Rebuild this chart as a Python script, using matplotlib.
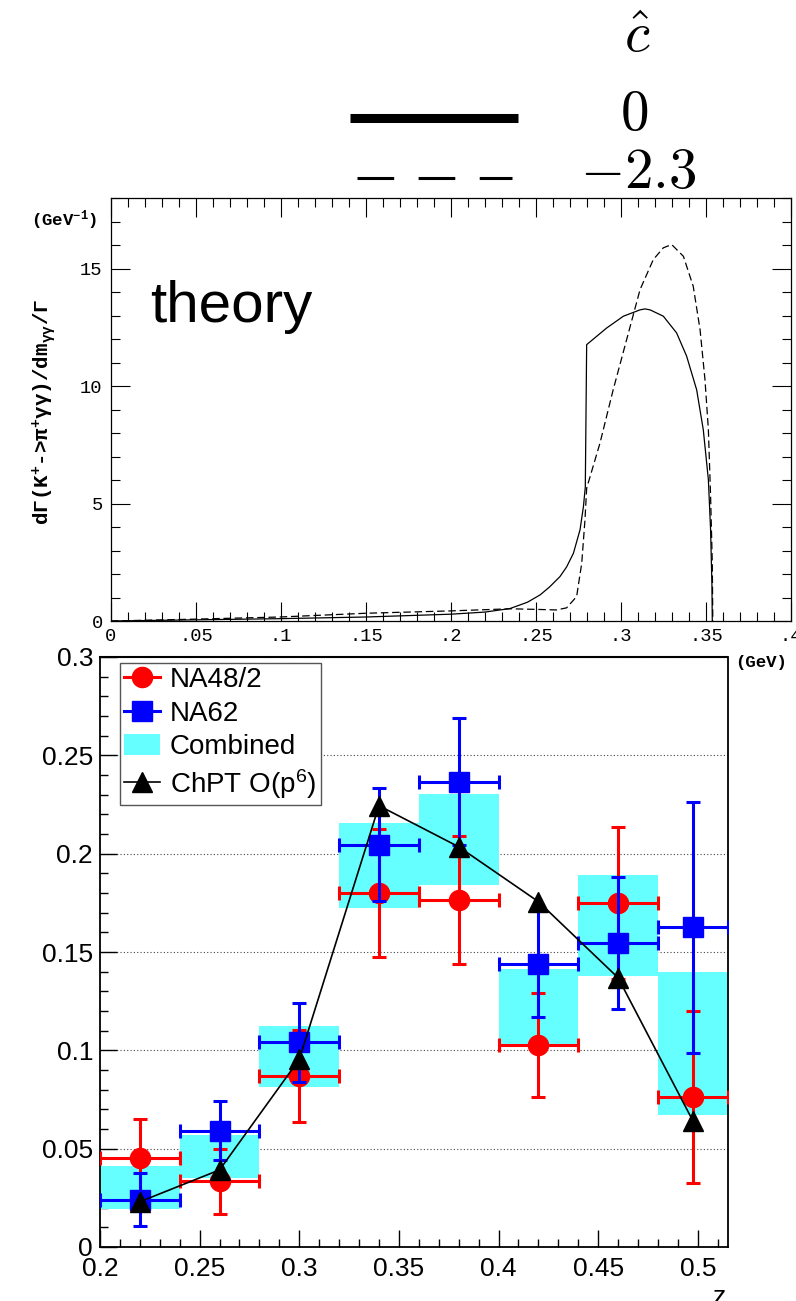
import matplotlib
matplotlib.use('Agg')
import matplotlib.pyplot as plt
from matplotlib.lines import Line2D
from matplotlib.patches import Patch, Rectangle
from matplotlib.ticker import MultipleLocator, FixedLocator, FixedFormatter

plt.rcParams['mathtext.fontset'] = 'custom'
plt.rcParams['mathtext.rm'] = 'Liberation Mono'
plt.rcParams['mathtext.bf'] = 'Liberation Mono:bold'
plt.rcParams['mathtext.it'] = 'Liberation Mono:italic'
plt.rcParams['mathtext.sf'] = 'Liberation Sans'

# ---------------- data: theory panel ----------------
theory_x_c0 = [0.0, 0.05, 0.10, 0.15, 0.20, 0.22, 0.2347, 0.245, 0.2524, 0.258, 0.2641, 0.268,
               0.272, 0.2759, 0.2779, 0.2790, 0.2798, 0.2916, 0.3014, 0.3112, 0.3141, 0.3171,
               0.3249, 0.3327, 0.3386, 0.3445, 0.3484, 0.3514, 0.3527, 0.3535, 0.3537]
theory_y_c0 = [0.0, 0.05, 0.10, 0.17, 0.29, 0.38, 0.53, 0.80, 1.11, 1.45, 1.89, 2.30,
               2.88, 3.88, 4.87, 5.70, 11.76, 12.47, 12.97, 13.24, 13.28, 13.24,
               12.97, 12.26, 11.27, 9.84, 8.14, 6.01, 3.88, 1.50, 0.0]
theory_x_c23 = [0.0, 0.05, 0.0994, 0.15, 0.20, 0.235, 0.2524, 0.262, 0.268, 0.2739, 0.2769,
                0.2788, 0.2798, 0.2876, 0.2954, 0.3033, 0.3112, 0.3190, 0.3249, 0.3298,
                0.3367, 0.3425, 0.3465, 0.3494, 0.3514, 0.3527, 0.3537, 0.3540]
theory_y_c23 = [0.0, 0.08, 0.17, 0.33, 0.43, 0.52, 0.49, 0.47, 0.56, 1.04, 2.46,
                4.30, 5.65, 7.56, 9.84, 11.97, 14.10, 15.38, 15.88, 16.02,
                15.52, 14.24, 12.40, 10.27, 8.14, 5.30, 2.46, 0.0]
top_xticks = [0.0, 0.05, 0.10, 0.15, 0.20, 0.25, 0.30, 0.35, 0.40]
top_xlabels = ['0', '.05', '.1', '.15', '.2', '.25', '.3', '.35', '.4']
top_yticks = [0, 5, 10, 15]
top_ylabels = ['0', '5', '10', '15']
chat_values = ['$0$', '$-2.3$']

# ---------------- data: measurement panel ----------------
z_center = [0.22, 0.26, 0.30, 0.34, 0.38, 0.42, 0.46, 0.4975]
z_low = [0.20, 0.24, 0.28, 0.32, 0.36, 0.40, 0.44, 0.48]
z_high = [0.24, 0.28, 0.32, 0.36, 0.40, 0.44, 0.48, 0.515]
na48 = [0.0453, 0.0335, 0.0870, 0.1800, 0.1765, 0.1027, 0.1750, 0.0762]
na48_err = [0.0200, 0.0165, 0.0235, 0.0325, 0.0327, 0.0266, 0.0385, 0.0437]
na62 = [0.0240, 0.0590, 0.1040, 0.2045, 0.2366, 0.1440, 0.1545, 0.1625]
na62_err = [0.0134, 0.0150, 0.0200, 0.0288, 0.0322, 0.0270, 0.0337, 0.0637]
comb_low = [0.0192, 0.0352, 0.0815, 0.1722, 0.1841, 0.1031, 0.1378, 0.0671]
comb_high = [0.0412, 0.0569, 0.1124, 0.2156, 0.2303, 0.1414, 0.1891, 0.1398]
chpt = [0.0230, 0.0392, 0.0954, 0.2244, 0.2035, 0.1756, 0.1369, 0.0642]
bot_xticks = [0.2, 0.25, 0.3, 0.35, 0.4, 0.45, 0.5]
bot_xlabels = ['0.2', '0.25', '0.3', '0.35', '0.4', '0.45', '0.5']
bot_yticks = [0, 0.05, 0.1, 0.15, 0.2, 0.25, 0.3]
bot_ylabels = ['0', '0.05', '0.1', '0.15', '0.2', '0.25', '0.3']
legend_labels = ['NA48/2', 'NA62', 'Combined', 'ChPT O(p$^{\\mathsf{6}}$)']

CYAN = '#66ffff'
W, H = 796, 1301
fig = plt.figure(figsize=(W / 100, H / 100), dpi=100)

# ---------------- top panel ----------------
ax1 = fig.add_axes([111 / W, 1 - 621 / H, 680 / W, 423 / H])
ax1.plot(theory_x_c0, theory_y_c0, color='black', lw=0.9)
ax1.plot(theory_x_c23, theory_y_c23, color='black', lw=0.9, linestyle=(0, (6, 3)))
ax1.set_xlim(0, 0.4)
ax1.set_ylim(0, 18)
ax1.xaxis.set_major_locator(FixedLocator(top_xticks))
ax1.xaxis.set_major_formatter(FixedFormatter(top_xlabels))
ax1.xaxis.set_minor_locator(MultipleLocator(0.01))
ax1.yaxis.set_major_locator(FixedLocator(top_yticks))
ax1.yaxis.set_major_formatter(FixedFormatter(top_ylabels))
ax1.yaxis.set_minor_locator(MultipleLocator(1))
ax1.tick_params(which='both', direction='in', top=True, right=True, width=0.8,
                labelsize=13.5, labelfontfamily='Liberation Mono')
ax1.tick_params(which='major', length=13.5)
ax1.tick_params(which='minor', length=6.5)
ax1.tick_params(axis='x', pad=5)
ax1.tick_params(axis='y', pad=6)
for s in ax1.spines.values():
    s.set_linewidth(0.9)
ax1.text(150 / W, 1 - 307 / H, 'theory', transform=fig.transFigure, ha='left', va='center',
         fontsize=42, family='Liberation Sans')
fig.text(64 / W, 1 - 220 / H, r'(GeV$^{\mathbf{-1}}$)', ha='center', va='center',
         family='Liberation Mono', weight='bold', size=12.5)
fig.text(761 / W, 1 - 662 / H, '(GeV)', ha='center', va='center',
         family='Liberation Mono', weight='bold', size=12.5)
fig.text(44 / W, 1 - 412 / H,
         r'd$\mathbf{\Gamma}$(K$^{\mathbf{+}}$->$\mathbf{\pi}^{\mathbf{+}}\mathbf{\gamma\gamma}$)/dm$_{\mathbf{\gamma\gamma}}$/$\mathbf{\Gamma}$',
         rotation=90, ha='center', va='center', family='Liberation Mono', weight='bold', size=15)

# ---------------- top legend (c-hat) ----------------
ax0 = fig.add_axes([0, 0, 1, 1])
ax0.set_xlim(0, W)
ax0.set_ylim(H, 0)
ax0.axis('off')
ax0.plot([350, 518], [118, 118], color='black', lw=6.5, solid_capstyle='butt')
ax0.plot([357, 512], [178, 178], color='black', lw=2.2, dashes=(12.0, 8.0), dash_capstyle='butt')
ax0.text(637, 52, r'$\hat{c}$', ha='center', va='baseline', fontsize=41, math_fontfamily='cm')
ax0.text(634, 130, chat_values[0], ha='center', va='baseline', fontsize=41, math_fontfamily='cm')
ax0.text(638, 188, chat_values[1], ha='center', va='baseline', fontsize=41, math_fontfamily='cm')

# ---------------- bottom panel ----------------
ax2 = fig.add_axes([100 / W, 1 - 1247 / H, 627.7 / W, 590 / H])
for lo, hi, blo, bhi in zip(z_low, z_high, comb_low, comb_high):
    ax2.add_patch(Rectangle((lo, blo), hi - lo, bhi - blo, facecolor=CYAN, edgecolor='none', zorder=1))
xerr = [[c - lo for c, lo in zip(z_center, z_low)], [hi - c for c, hi in zip(z_center, z_high)]]
ax2.errorbar(z_center, na48, yerr=na48_err, xerr=xerr, fmt='o', color='red', ms=14.5,
             elinewidth=2.2, capsize=5, capthick=2.2, zorder=3)
ax2.errorbar(z_center, na62, yerr=na62_err, xerr=xerr, fmt='s', color='blue', ms=15,
             elinewidth=2.2, capsize=5, capthick=2.2, zorder=4)
ax2.plot(z_center, chpt, color='black', lw=1.2, marker='^', ms=14.5, zorder=5)
ax2.set_xlim(0.2, 0.515)
ax2.set_ylim(0, 0.3)
ax2.xaxis.set_major_locator(FixedLocator(bot_xticks))
ax2.xaxis.set_major_formatter(FixedFormatter(bot_xlabels))
ax2.xaxis.set_minor_locator(MultipleLocator(0.01))
ax2.yaxis.set_major_locator(FixedLocator(bot_yticks))
ax2.yaxis.set_major_formatter(FixedFormatter(bot_ylabels))
ax2.yaxis.set_minor_locator(MultipleLocator(0.01))
ax2.tick_params(which='both', direction='in', width=1.0, labelsize=19,
                labelfontfamily='Liberation Sans')
ax2.tick_params(which='major', length=12.5)
ax2.tick_params(which='minor', length=6)
ax2.tick_params(axis='x', pad=7)
ax2.tick_params(axis='y', pad=5)
ax2.set_axisbelow(True)
ax2.yaxis.grid(True, which='major', linestyle=(0, (1, 2)), color='#444444', lw=0.8)
for k in ['left', 'bottom', 'right']:
    ax2.spines[k].set_linewidth(1.3)
ax2.spines['top'].set_linewidth(1.5)
ax2.spines['top'].set_linestyle((0, (1, 1)))
fig.text(719 / W, 1 - 1285 / H, 'z', ha='center', va='top', size=19, family='Liberation Sans')

handles = [Line2D([], [], color='red', marker='o', ms=14.5, lw=2.2),
           Line2D([], [], color='blue', marker='s', ms=15, lw=2.2),
           Patch(facecolor=CYAN, edgecolor='none'),
           Line2D([], [], color='black', marker='^', ms=14.5, lw=1.2)]
leg = ax2.legend(handles, legend_labels, loc='upper left', bbox_to_anchor=(120 / W, 1 - 663 / H),
                 bbox_transform=fig.transFigure, prop={'family': 'Liberation Sans', 'size': 20},
                 frameon=True, fancybox=False, edgecolor='#555555', framealpha=1,
                 borderpad=0.15, labelspacing=0.25, handlelength=1.3, handletextpad=0.35,
                 borderaxespad=0, handleheight=0.8)
leg.get_frame().set_linewidth(1.0)

fig.savefig('out.png', dpi=100)
